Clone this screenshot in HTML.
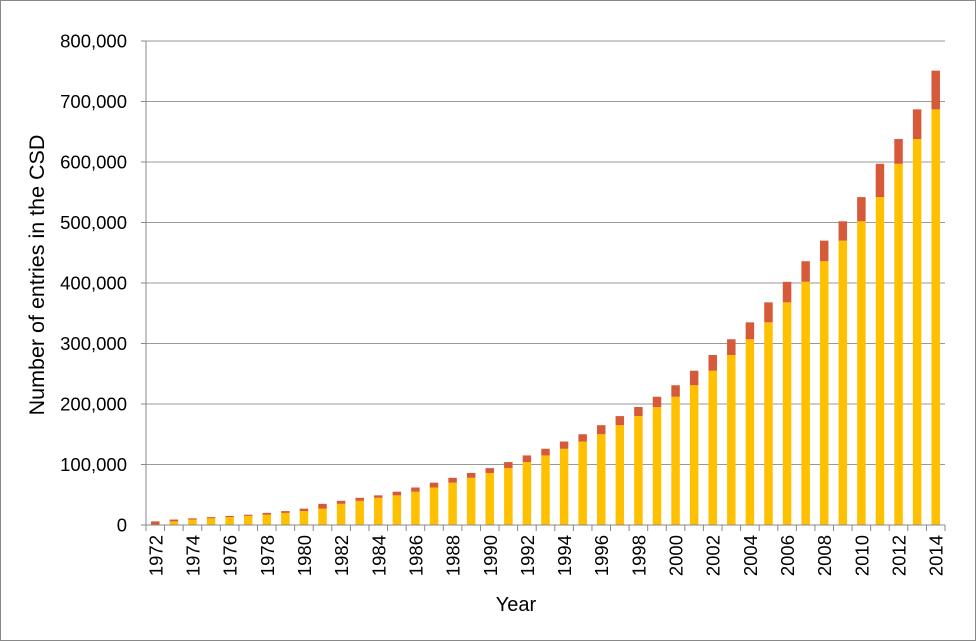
<!DOCTYPE html>
<html><head><meta charset="utf-8"><style>
html,body{margin:0;padding:0;background:#fff}
svg{display:block}
text{font-family:"Liberation Sans",sans-serif;fill:#000}
</style></head><body>
<svg id="s" width="976" height="641" xmlns="http://www.w3.org/2000/svg">
<rect x="0.5" y="0.5" width="975" height="640" fill="#fff" stroke="#888"/>
</svg>
<script>
const s=document.getElementById('s');
const NS='http://www.w3.org/2000/svg';
function el(t,a,txt){const e=document.createElementNS(NS,t);for(const k in a)e.setAttribute(k,a[k]);if(txt!==undefined)e.textContent=txt;s.appendChild(e);return e;}
const tot=[6,9,11,13,15,17,20,23,27,35,40,45,49,55,62,70,78,86,94,104,115,126,138,150,165,180,195,212,231,255,281,307,335,368,402,436,470,502,542,597,638,687,751];
const x0=146,x1=945,y0=525,ppk=0.605,n=tot.length,w=(x1-x0)/n;
for(let i=0;i<=8;i++){const y=y0-i*100*ppk;
 if(i>0)el('line',{x1:x0,x2:x1,y1:y,y2:y,stroke:'#999','stroke-width':1});
 el('text',{x:127,y:y+6.5,'text-anchor':'end','font-size':18.5},i==0?'0':(i*100)+',000');
 el('line',{x1:x0-5,x2:x0,y1:y,y2:y,stroke:'#888'});}
for(let i=0;i<n;i++){const cx=x0+w*(i+0.5),bw=8.5;
 const prev=i==0?0:tot[i-1];
 if(prev>0)el('rect',{x:cx-bw/2,y:y0-prev*ppk,width:bw,height:prev*ppk,fill:'#FFC000'});
 el('rect',{x:cx-bw/2,y:y0-tot[i]*ppk,width:bw,height:(tot[i]-prev)*ppk,fill:'#D65A3A'});
 el('line',{x1:x0+w*i,x2:x0+w*i,y1:y0,y2:y0+6,stroke:'#888'});
 if(i%2==0){el('text',{x:0,y:0,'font-size':18.5,'text-anchor':'end',transform:`translate(${cx+7},${y0+10}) rotate(-90)`},1972+i);}
}
el('line',{x1:x1,x2:x1,y1:y0,y2:y0+6,stroke:'#888'});
el('line',{x1:x0,x2:x0,y1:41,y2:y0,stroke:'#888'});
el('line',{x1:x0,x2:x1,y1:y0,y2:y0,stroke:'#888'});
el('text',{x:516,y:611,'font-size':20,'text-anchor':'middle'},'Year');
el('text',{x:0,y:0,'font-size':21.5,'text-anchor':'middle',transform:'translate(44,275) rotate(-90)'},'Number of entries in the CSD');
</script>
</body></html>
